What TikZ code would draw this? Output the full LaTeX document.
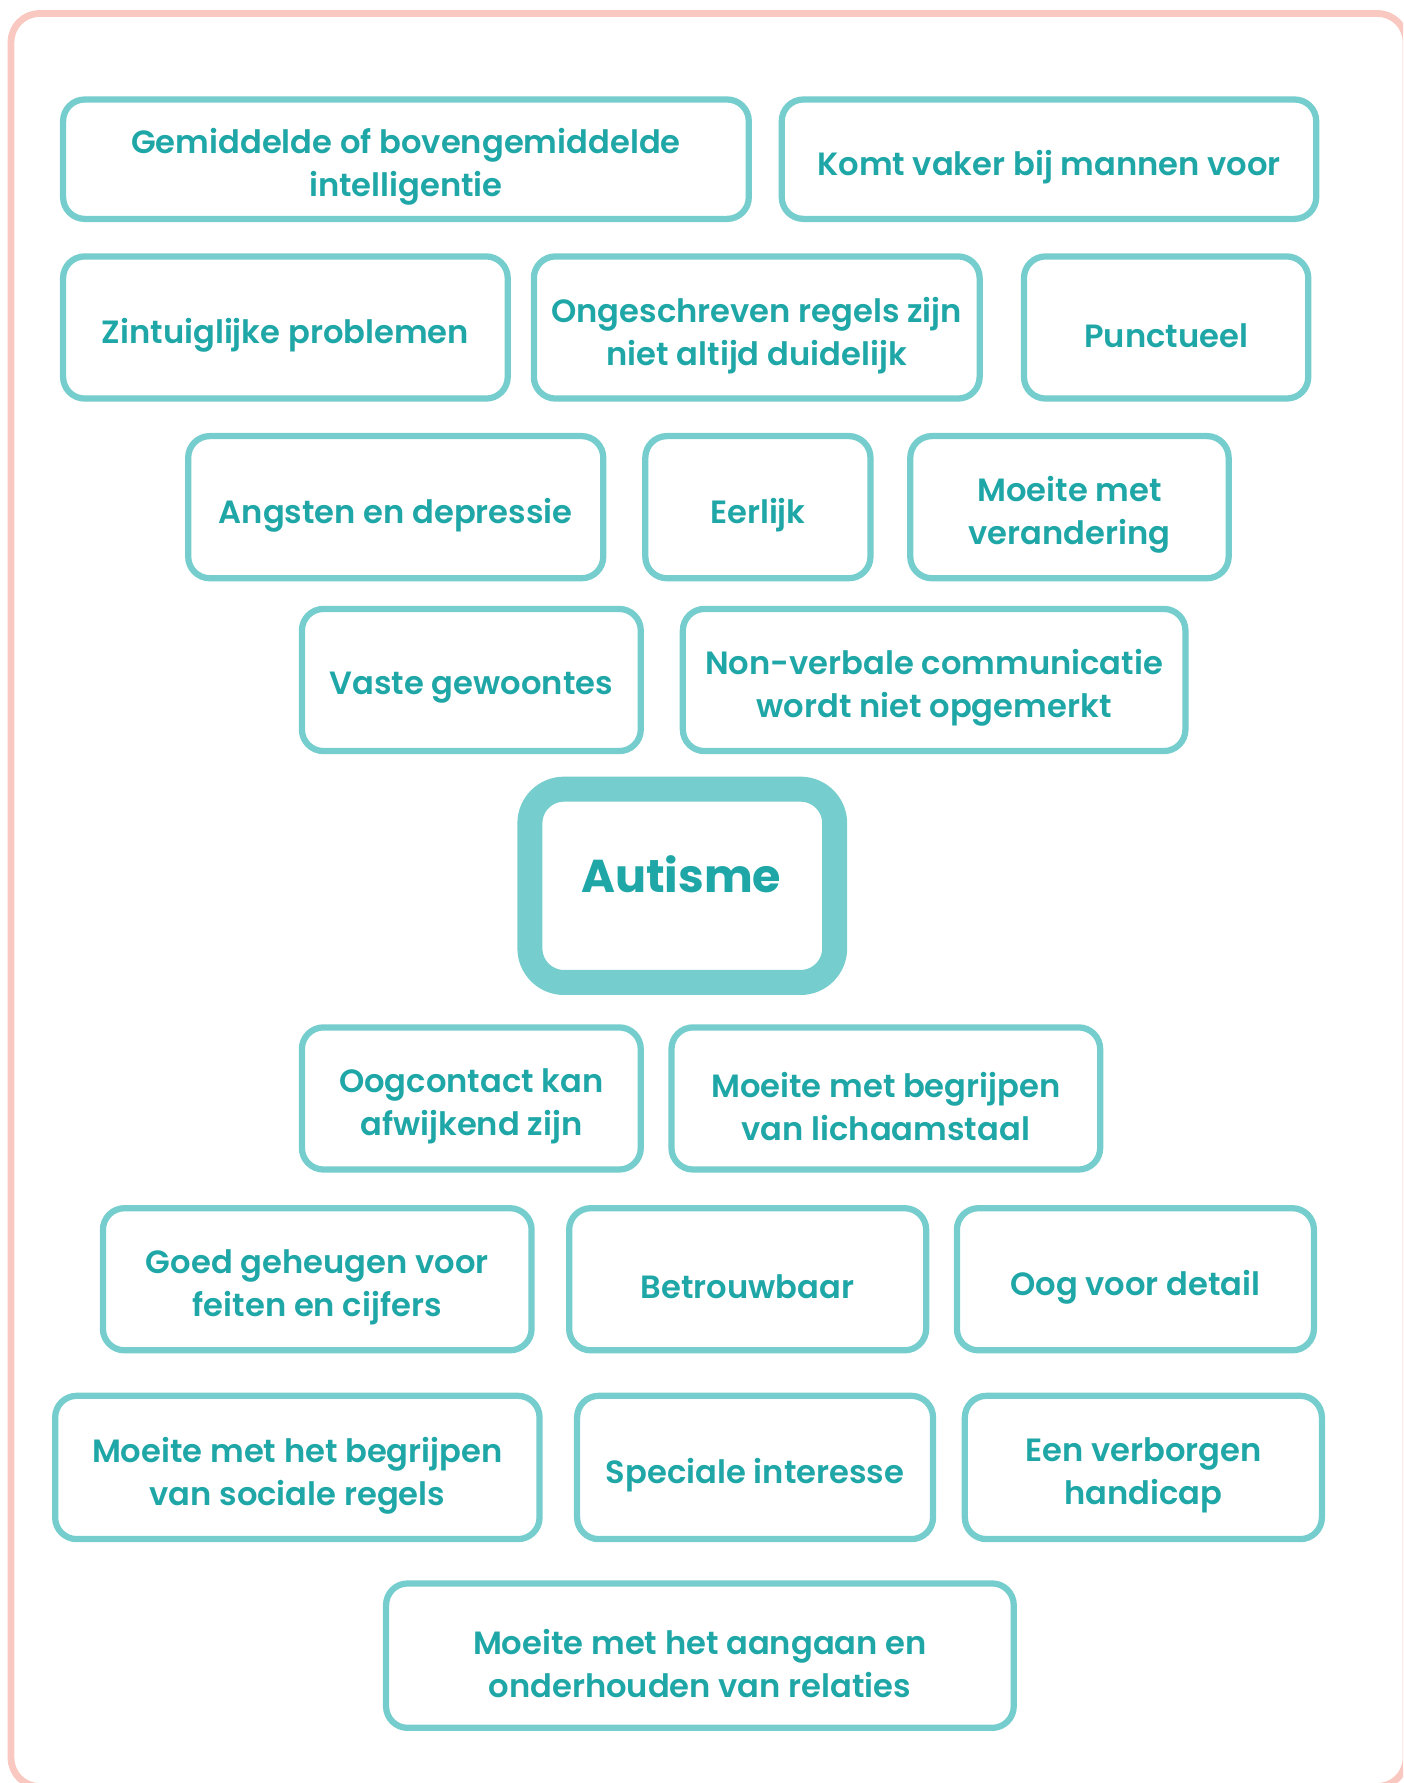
\documentclass[tikz,border=0pt]{standalone}
\usepackage{fontspec}
\setmainfont{Poppins}[UprightFont={* Medium},BoldFont={* Bold}]
\newfontface\semibd{Poppins SemiBold}
\definecolor{boxline}{HTML}{76CDCD}
\definecolor{boxtext}{HTML}{1FA6A6}
\definecolor{frame}{HTML}{F9C9C1}
\begin{document}
\begin{tikzpicture}[x=1pt,y=-1pt,
  box/.style={draw=boxline, line width=5.5pt, rounded corners=19pt, inner sep=0pt},
  lbl/.style={inner sep=0pt, align=center, text=boxtext, yshift=-7pt,
    font=\fontsize{28.3}{38}\selectfont\semibd},
  hub/.style={draw=boxline, line width=22pt, rounded corners=30pt, inner sep=0pt,
    minimum width=268pt, minimum height=170pt},
  hubtext/.style={text=boxtext, font=\fontsize{40.5}{48}\selectfont\bfseries, inner sep=0pt}]
\useasboundingbox (0,0) rectangle (1234,1568);
\begin{scope}
\clip (0,0) rectangle (1234,1568);
\draw[frame, line width=6pt, rounded corners=25pt] (9.7,11.9) rectangle (1236.5,1571);
\end{scope}
% row 1
\node[box, minimum width=603pt, minimum height=105pt] (b1) at (357,140) {};
\node[lbl] (t1) at (b1.center) {Gemiddelde of bovengemiddelde\\intelligentie};
\node[box, minimum width=470pt, minimum height=105pt] (b2) at (922.5,140) {};
\node[lbl] (t2) at (b2.center) {Komt vaker bij mannen voor};
% row 2
\node[box, minimum width=391pt, minimum height=125pt] (b3) at (251,288) {};
\node[lbl] (t3) at (b3.center) {Zintuiglijke problemen};
\node[box, minimum width=392pt, minimum height=125pt] (b4) at (665.5,288) {};
\node[lbl] (t4) at (b4.center) {Ongeschreven regels zijn\\niet altijd duidelijk};
\node[box, minimum width=250pt, minimum height=125pt] (b5) at (1025.5,288) {};
\node[lbl] (t5) at (b5.center) {Punctueel};
% row 3
\node[box, minimum width=365pt, minimum height=125pt] (b6) at (348,446) {};
\node[lbl] (t6) at (b6.center) {Angsten en depressie};
\node[box, minimum width=198pt, minimum height=125pt] (b7) at (666.5,446) {};
\node[lbl] (t7) at (b7.center) {Eerlijk};
\node[box, minimum width=280pt, minimum height=125pt] (b8) at (940.5,446) {};
\node[lbl] (t8) at (b8.center) {Moeite met\\verandering};
% row 4
\node[box, minimum width=298pt, minimum height=125pt] (b9) at (414.5,598) {};
\node[lbl] (t9) at (b9.center) {Vaste gewoontes};
\node[box, minimum width=442pt, minimum height=125pt] (b10) at (821.5,598) {};
\node[lbl] (t10) at (b10.center) {Non-verbale communicatie\\wordt niet opgemerkt};
% hub
\node[hub] (hub) at (600,779) {};
\node[hubtext] (hubt) at (599,769) {Autisme};
% row 5
\node[box, minimum width=298pt, minimum height=125pt] (b11) at (414.5,966) {};
\node[lbl] (t11) at (b11.center) {Oogcontact kan\\afwijkend zijn};
\node[box, minimum width=377pt, minimum height=125pt] (b12) at (779,966) {};
\node[lbl] (t12) at (b12.center) {Moeite met begrijpen\\van lichaamstaal};
% row 6
\node[box, minimum width=377pt, minimum height=125pt] (b13) at (279,1125) {};
\node[lbl] (t13) at (b13.center) {Goed geheugen voor\\feiten en cijfers};
\node[box, minimum width=314pt, minimum height=125pt] (b14) at (657.5,1125) {};
\node[lbl] (t14) at (b14.center) {Betrouwbaar};
\node[box, minimum width=314pt, minimum height=125pt] (b15) at (998.5,1125) {};
\node[lbl] (t15) at (b15.center) {Oog voor detail};
% row 7
\node[box, minimum width=426pt, minimum height=126pt] (b16) at (261.5,1290.5) {};
\node[lbl] (t16) at (b16.center) {Moeite met het begrijpen\\van sociale regels};
\node[box, minimum width=313pt, minimum height=126pt] (b17) at (664,1290.5) {};
\node[lbl] (t17) at (b17.center) {Speciale interesse};
\node[box, minimum width=314pt, minimum height=126pt] (b18) at (1005.5,1290.5) {};
\node[lbl] (t18) at (b18.center) {Een verborgen\\handicap};
% row 8
\node[box, minimum width=552pt, minimum height=127pt] (b19) at (615.5,1456) {};
\node[lbl] (t19) at (b19.center) {Moeite met het aangaan en\\onderhouden van relaties};
\end{tikzpicture}
\end{document}
